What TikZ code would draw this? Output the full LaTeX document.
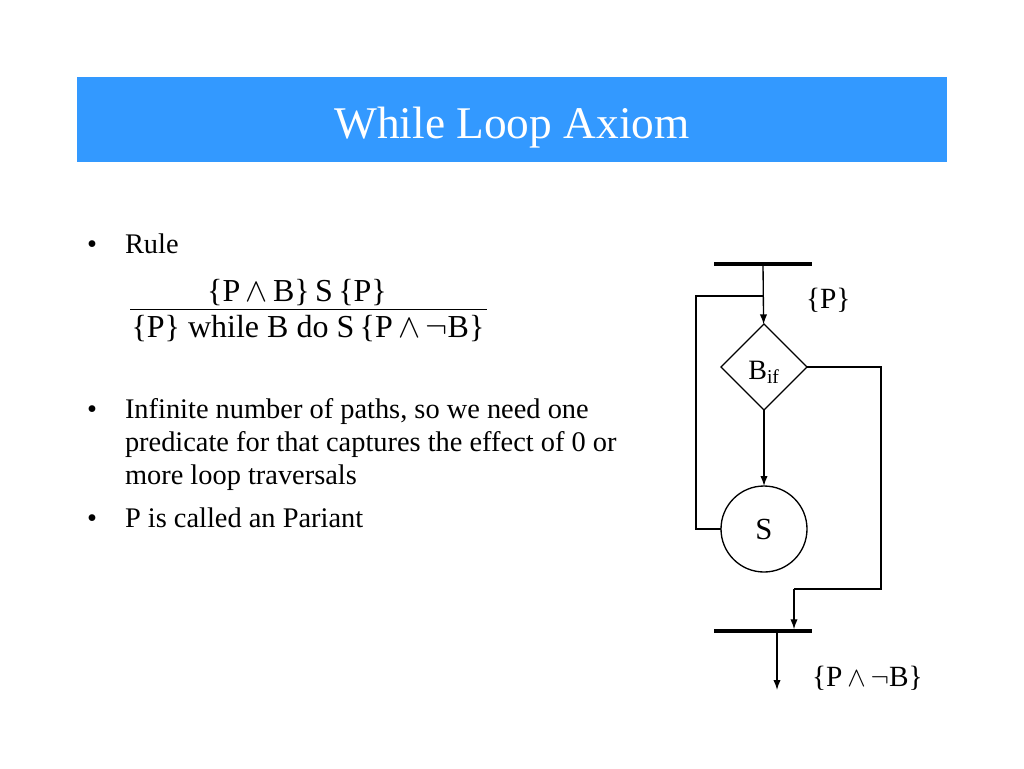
\documentclass[tikz,border=0pt]{standalone}
\usepackage{fontspec}
\setmainfont{Liberation Serif}
\usetikzlibrary{shapes.geometric,arrows.meta}
\definecolor{titleblue}{RGB}{51,153,255}

\begin{document}
\begin{tikzpicture}[x=0.75pt, y=-0.75pt,
  every node/.style = {inner sep=0pt, outer sep=0pt},
  bul/.style = {anchor=base, font=\fontsize{21.3}{25}\selectfont},
  itemtext/.style = {anchor=base west, font=\fontsize{21.3}{25}\selectfont},
  formula/.style = {anchor=base, font=\fontsize{24}{28}\selectfont},
  flowlabel/.style = {anchor=base west, font=\fontsize{22}{26}\selectfont},
  bar/.style = {rectangle, fill=black, minimum width=73pt, minimum height=2.6pt},
  flow/.style = {line width=1pt},
  flowarrow/.style = {flow, -{Latex[length=7.5pt, width=5.5pt]}}]
  \useasboundingbox (0,0) rectangle (1024,768);
  % title bar
  \fill[titleblue] (77,77) rectangle (947,162);
  \node[anchor=base, text=white, font=\fontsize{34}{40}\selectfont] (title) at (512,138) {While Loop Axiom};
  % bullets
  \node[bul] (b1) at (92,253) {•};
  \node[itemtext] (rule) at (125,253) {Rule};
  \node[formula] (num) at (297,301) {\{P\,$\wedge$\,B\}\,S\,\{P\}};
  \node[formula] (den) at (308,337) {\{P\} while B do S\,\{P\,$\wedge$\,$\neg$B\}};
  \coordinate (fracL) at (130,309);
  \coordinate (fracR) at (487,309);
  \draw[line width=0.6pt] (fracL) -- (fracR);
  \node[bul] (b2) at (92,418) {•};
  \node[itemtext] (inf1) at (125,418) {Infinite number of paths, so we need one};
  \node[itemtext] (inf2) at (125,451) {predicate for that captures the effect of 0 or};
  \node[itemtext] (inf3) at (125,484) {more loop traversals};
  \node[bul] (b3) at (92,527) {•};
  \node[itemtext] (pvar) at (125,527) {P is called an Pariant};
  % flow graph
  \node[bar] (top) at (763,264) {};
  \node[diamond, draw, flow, minimum width=64.5pt, minimum height=64.5pt] (cond) at (764,367) {};
  \node[anchor=base, font=\fontsize{21}{25}\selectfont] (condtext) at (764,379) {B\textsubscript{if}};
  \node[circle, draw, flow, minimum size=64.5pt, font=\fontsize{23}{27}\selectfont] (body) at (764,529) {S};
  \node[bar] (bot) at (763,631) {};
  \coordinate (joinT) at (763,296);
  \coordinate (loopC) at (696,296);
  \coordinate (exitR) at (881,589);
  \coordinate (exitL) at (794,589);
  \coordinate (out) at (777,690);
  \draw[flowarrow] (top) -- (cond);
  \draw[flow] (body.west) -| (loopC) -- (joinT);
  \draw[flowarrow] (cond) -- (body);
  \draw[flow] (cond.east) -| (exitR) -- (exitL);
  \draw[flowarrow] (exitL) -- (exitL |- bot.north);
  \draw[flowarrow] (bot.south -| out) -- (out);
  \node[flowlabel] (pre) at (806,308) {\{P\}};
  \node[flowlabel] (post) at (812,686) {\{P\,$\wedge$\,$\neg$B\}};
\end{tikzpicture}
\end{document}
